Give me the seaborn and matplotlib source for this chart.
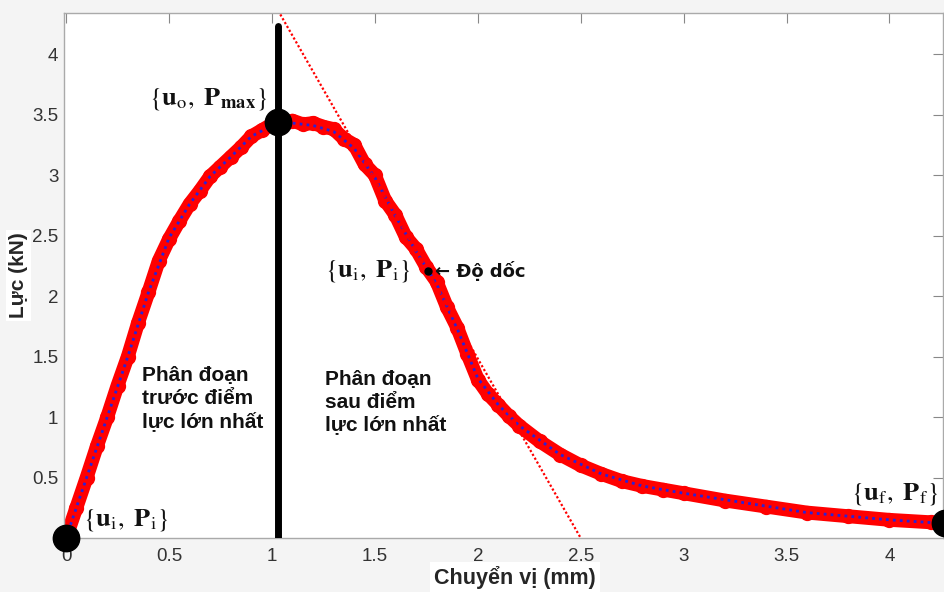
import matplotlib
matplotlib.use("Agg")
import matplotlib.pyplot as plt
import seaborn as sns
import pandas as pd

# measured force-displacement points (red markers)
disp_mm = [0.00, 0.05, 0.10, 0.15, 0.20, 0.25, 0.30, 0.35, 0.40, 0.45,
           0.50, 0.55, 0.60, 0.65, 0.70, 0.75, 0.80, 0.85, 0.90, 0.95,
           1.00, 1.05, 1.10, 1.15, 1.20, 1.25, 1.30, 1.35, 1.40, 1.45,
           1.50, 1.55, 1.60, 1.65, 1.70, 1.75, 1.80, 1.85, 1.90, 1.95,
           2.00, 2.05, 2.10, 2.15, 2.20, 2.30, 2.40, 2.50, 2.60, 2.70,
           2.80, 2.90, 3.00, 3.20, 3.40, 3.60, 3.80, 4.00, 4.20, 4.27]
force_kn = [0.00, 0.25, 0.50, 0.76, 1.00, 1.26, 1.50, 1.78, 2.03, 2.29,
            2.47, 2.62, 2.76, 2.87, 2.99, 3.07, 3.15, 3.23, 3.32, 3.37,
            3.42, 3.41, 3.45, 3.42, 3.43, 3.40, 3.38, 3.30, 3.25, 3.09,
            3.00, 2.79, 2.67, 2.49, 2.39, 2.24, 2.12, 1.91, 1.74, 1.52,
            1.31, 1.19, 1.10, 1.01, 0.93, 0.80, 0.69, 0.60, 0.53, 0.47,
            0.43, 0.40, 0.37, 0.31, 0.26, 0.21, 0.18, 0.15, 0.13, 0.12]

# smooth fitted curve (blue dotted)
fit_mm = [0.00, 0.10, 0.20, 0.30, 0.40, 0.50, 0.60, 0.70, 0.80, 0.90,
          1.00, 1.10, 1.20, 1.30, 1.40, 1.50, 1.60, 1.70, 1.80, 1.90,
          2.00, 2.10, 2.20, 2.40, 2.60, 2.80, 3.00, 3.30, 3.60, 4.00, 4.27]
fit_kn = [0.00, 0.50, 1.00, 1.50, 2.03, 2.48, 2.76, 2.99, 3.15, 3.32,
          3.41, 3.43, 3.41, 3.36, 3.22, 2.98, 2.66, 2.37, 2.10, 1.73,
          1.32, 1.10, 0.93, 0.69, 0.53, 0.43, 0.37, 0.29, 0.21, 0.15, 0.12]

# tangent (slope) line and vertical max-force line
tangent_mm = [1.03, 2.50]
tangent_kn = [4.36, 0.00]
peak_line_mm = [1.03, 1.03]
peak_line_kn = [0.00, 4.23]

# key points: initial, max, final
key_mm = [0.00, 1.03, 4.27]
key_kn = [0.00, 3.44, 0.12]
slope_pt = (1.76, 2.21)

xticks = [0, 0.5, 1, 1.5, 2, 2.5, 3, 3.5, 4]
yticks = [0.5, 1, 1.5, 2, 2.5, 3, 3.5, 4]

sns.set_theme(style="white")
plt.rcParams["font.family"] = ["Liberation Sans", "DejaVu Sans"]
plt.rcParams["mathtext.fontset"] = "stix"

fig = plt.figure(figsize=(9.44, 5.92), dpi=100, facecolor="#f4f4f4")
ax = fig.add_axes([64 / 944, 54 / 592, 879 / 944, 525 / 592])
ax.set_facecolor("white")

meas = pd.DataFrame({"x": disp_mm, "y": force_kn})
fit = pd.DataFrame({"x": fit_mm, "y": fit_kn})

sns.lineplot(data=meas, x="x", y="y", ax=ax, sort=False, estimator=None,
             color="#ff0000", lw=10, marker="o", markersize=11,
             markeredgewidth=0, zorder=2)
sns.lineplot(data=fit, x="x", y="y", ax=ax, sort=False, estimator=None,
             color="#2a22d8", lw=2, linestyle=(0, (1, 1.5)), zorder=3)
sns.lineplot(x=tangent_mm, y=tangent_kn, ax=ax, sort=False, estimator=None,
             color="#ff0000", lw=1.6, linestyle=(0, (1, 1)), zorder=3)
sns.lineplot(x=peak_line_mm, y=peak_line_kn, ax=ax, sort=False,
             estimator=None, color="black", lw=5, zorder=4)

ax.plot(key_mm, key_kn, "o", color="black", markersize=19, zorder=5,
        clip_on=False)
ax.plot([slope_pt[0]], [slope_pt[1]], "o", color="black", markersize=5,
        zorder=5)

ax.set_xlim(-0.01, 4.26)
ax.set_ylim(0, 4.34)
ax.set_xticks(xticks)
ax.set_xticklabels(["0", "0.5", "1", "1.5", "2", "2.5", "3", "3.5", "4"])
ax.set_yticks(yticks)
ax.set_yticklabels(["0.5", "1", "1.5", "2", "2.5", "3", "3.5", "4"])
ax.tick_params(direction="in", length=7, width=0.8, color="#888888",
               labelsize=13.5, labelcolor="#333333", top=True, right=True,
               labelright=False, labeltop=False)
ax.tick_params(axis="x", pad=7)
ax.tick_params(axis="y", pad=4)
for sp in ax.spines.values():
    sp.set_color("#aaaaaa")
    sp.set_linewidth(1)

ax.set_xlabel("Chuyển vị (mm)", fontsize=15.5, fontweight="bold",
              va="center", bbox=dict(facecolor="white", edgecolor="none",
                                     pad=3))
ax.xaxis.set_label_coords(0.513, -0.076)
ax.set_ylabel("Lực (kN)", fontsize=15, fontweight="bold",
              bbox=dict(facecolor="white", edgecolor="none", pad=2))
ax.yaxis.set_label_coords(-0.041, 0.5)

serif = dict(fontsize=19, color="#111111")
ax.text(0.98, 3.63, r"$\{\mathbf{u}_{\mathrm{o}},\ \mathbf{P}_{\mathbf{max}}\}$",
        ha="right", va="center", **serif)
ax.text(0.08, 0.15, r"$\{\mathbf{u}_{\mathrm{i}},\ \mathbf{P}_{\mathrm{i}}\}$",
        ha="left", va="center", **serif)
ax.text(1.26, 2.21, r"$\{\mathbf{u}_{\mathrm{i}},\ \mathbf{P}_{\mathrm{i}}\}$",
        ha="left", va="center", **serif)
ax.text(4.24, 0.36, r"$\{\mathbf{u}_{\mathrm{f}},\ \mathbf{P}_{\mathrm{f}}\}$",
        ha="right", va="center", **serif)
ax.text(1.79, 2.21, "← Độ dốc", ha="left", va="center", fontsize=13,
        fontweight="bold", color="#111111", family=["DejaVu Sans"])

seg = dict(fontsize=15, color="#111111", linespacing=1.25, va="top",
           ha="left", fontweight="bold")
ax.text(0.37, 1.42, "Phân đoạn\ntrước điểm\nlực lớn nhất", **seg)
ax.text(1.26, 1.39, "Phân đoạn\nsau điểm\nlực lớn nhất", **seg)

fig.savefig("out.png", dpi=100, facecolor=fig.get_facecolor())
